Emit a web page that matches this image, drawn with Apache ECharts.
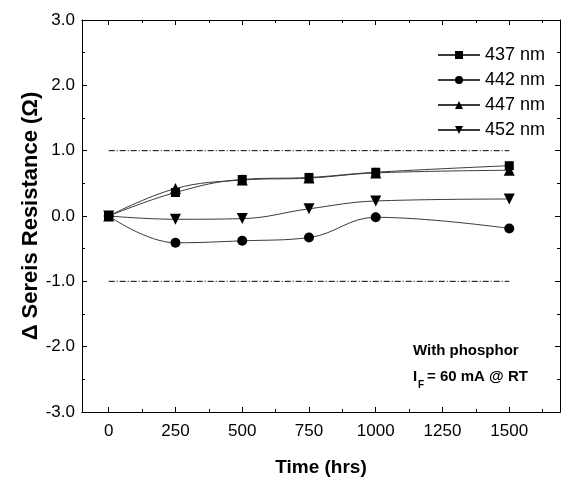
<!DOCTYPE html>
<html>
<head>
<meta charset="utf-8">
<script src="https://cdn.jsdelivr.net/npm/echarts@6/dist/echarts.min.js"></script>
<style>
  html, body { margin: 0; padding: 0; background: #fff; }
  #chart { width: 562px; height: 477px; }
</style>
</head>
<body>
<div id="chart"></div>
<script>
// time points (hrs)
var hours = [0, 250, 500, 750, 1000, 1500];
// delta series resistance (ohm) per wavelength
var r437 = [0, 0.36, 0.56, 0.59, 0.67, 0.77];
var r442 = [0, -0.41, -0.38, -0.33, -0.02, -0.19];
var r447 = [0, 0.42, 0.55, 0.58, 0.66, 0.70];
var r452 = [0, -0.05, -0.04, 0.11, 0.23, 0.26];
// limit lines
var limitX = [0, 1500];
var limitUpper = 1.0;
var limitLower = -1.0;
// x tick values
var xMajor = [0, 250, 500, 750, 1000, 1250, 1500];
var xMinor = [125, 375, 625, 875, 1125, 1375, 1625];

var font = 'Liberation Sans, Arial, sans-serif';

function pairs (xs, ys) {
  return xs.map(function (x, i) { return [x, ys[i]] })
}

function dataSeries (name, values, symbol, size, rotate) {
  return {
    name: name,
    type: 'line',
    data: pairs(hours, values),
    smooth: 0.4,
    symbol: symbol,
    symbolSize: size,
    symbolRotate: rotate || 0,
    lineStyle: { color: '#3a3a3a', width: 1 },
    itemStyle: { color: '#000' },
    xAxisIndex: 0,
    yAxisIndex: 0,
    z: 3
  }
}

function limitSeries (v) {
  return {
    type: 'line',
    data: [[limitX[0], v], [limitX[1], v]],
    symbol: 'none',
    silent: true,
    lineStyle: { color: '#000', width: 1, type: [6, 2, 1, 2] },
    xAxisIndex: 0,
    yAxisIndex: 0,
    z: 2
  }
}

function xAx (pos, ticks, len, labels) {
  return {
    type: 'value',
    position: pos,
    min: -100,
    max: 1690,
    axisLine: { show: true, onZero: false, lineStyle: { color: '#000', width: 1 } },
    axisTick: { show: true, inside: true, length: len, customValues: ticks, lineStyle: { color: '#000' } },
    axisLabel: labels ? {
      show: true, customValues: ticks, color: '#000', fontSize: 17, fontFamily: font, margin: 11,
      formatter: function (v) { return String(v) }
    } : { show: false },
    splitLine: { show: false }
  }
}

function yAx (pos, labels) {
  return {
    type: 'value',
    position: pos,
    min: -3,
    max: 3,
    interval: 1,
    axisLine: { show: true, onZero: false, lineStyle: { color: '#000', width: 1 } },
    axisTick: { show: true, inside: true, length: 5, lineStyle: { color: '#000' } },
    minorTick: { show: true, splitNumber: 2, length: 3, lineStyle: { color: '#000' } },
    axisLabel: labels ? {
      show: true, color: '#000', fontSize: 17, fontFamily: font, margin: 7,
      formatter: function (v) { return v.toFixed(1) }
    } : { show: false },
    splitLine: { show: false },
    minorSplitLine: { show: false }
  }
}

var chart = echarts.init(document.getElementById('chart'))

var xMain = xAx('bottom', xMajor, 5, true)
xMain.name = 'Time (hrs)'
xMain.nameLocation = 'middle'
xMain.nameGap = 46
xMain.nameMoveOverlap = false
xMain.nameTextStyle = { color: '#000', fontSize: 19, fontWeight: 'bold', fontFamily: font }

var yMain = yAx('left', true)
yMain.name = 'Δ Sereis Resistance (Ω)'
yMain.nameLocation = 'middle'
yMain.nameGap = 40
yMain.nameMoveOverlap = false
yMain.nameTextStyle = { color: '#000', fontSize: 22, fontWeight: 'bold', fontFamily: font }

chart.setOption({
  animation: false,
  backgroundColor: '#fff',
  grid: { left: 82, right: 2, top: 20, bottom: 65, outerBoundsMode: 'none' },
  legend: {
    data: ['437 nm', '442 nm', '447 nm', '452 nm'],
    orient: 'vertical',
    left: 432,
    top: 41,
    itemWidth: 42,
    itemHeight: 10,
    itemGap: 7,
    textStyle: { color: '#000', fontSize: 18, fontFamily: font }
  },
  xAxis: [
    xMain,
    xAx('bottom', xMinor, 3, false),
    xAx('top', xMajor, 5, false),
    xAx('top', xMinor, 3, false)
  ],
  yAxis: [
    yMain,
    yAx('right', false)
  ],
  graphic: [
    { type: 'text', left: 413, top: 343, style: { text: 'With phosphor', fill: '#000', font: 'bold 15px ' + font } },
    { type: 'text', left: 413, top: 369, style: { text: 'I', fill: '#000', font: 'bold 15px ' + font } },
    { type: 'text', left: 418, top: 380, style: { text: 'F', fill: '#000', font: 'bold 10px ' + font } },
    { type: 'text', left: 427, top: 369, style: { text: '= 60 mA @ RT', fill: '#000', font: 'bold 15px ' + font } }
  ],
  series: [
    dataSeries('437 nm', r437, 'rect', 9),
    dataSeries('442 nm', r442, 'circle', 10),
    dataSeries('447 nm', r447, 'triangle', 11),
    dataSeries('452 nm', r452, 'triangle', 11, 180),
    limitSeries(limitUpper),
    limitSeries(limitLower)
  ]
})
</script>
</body>
</html>
